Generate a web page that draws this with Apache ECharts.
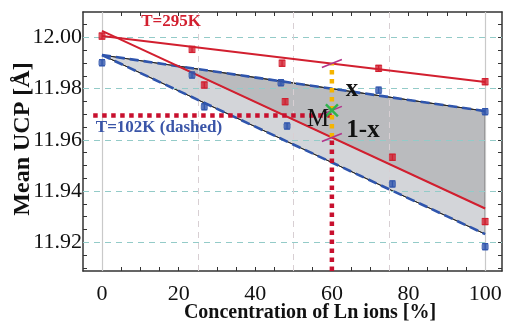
<!DOCTYPE html>
<html><head><meta charset="utf-8">
<script src="https://cdn.jsdelivr.net/npm/echarts@6/dist/echarts.min.js"></script>
<style>html,body{margin:0;padding:0;background:#fff}#c{width:505px;height:324px}</style>
</head><body><div id="c"></div>
<script>
// ---- data ----
const xTickLabels = [0, 20, 40, 60, 80, 100];
const xMinorTicks = [0,5,10,15,20,25,30,35,40,45,50,55,60,65,70,75,80,85,90,95,100];
const yTickLabels = [11.92, 11.94, 11.96, 11.98, 12.00];
const yMinorTicks = [11.91,11.915,11.92,11.925,11.93,11.935,11.94,11.945,11.95,11.955,11.96,11.965,11.97,11.975,11.98,11.985,11.99,11.995,12.00,12.005];
const vGridDashed = [25, 50, 75];
const vGridSolid = [0, 100];

const red1X = [0, 23.5, 47.0, 72.2, 100];
const red1Y = [12.0005, 11.9953, 11.9899, 11.9879, 11.9827];
const red2X = [26.7, 47.8, 75.8, 100];
const red2Y = [11.9814, 11.9749, 11.9532, 11.9281];
const blue1X = [0, 23.5, 46.7, 72.2, 100];
const blue1Y = [11.9901, 11.9853, 11.9823, 11.9794, 11.9710];
const blue2X = [26.7, 48.3, 75.8, 100];
const blue2Y = [11.9729, 11.9654, 11.9428, 11.9183];
const errBar = 0.0012;

const fitX = [0, 100];
const fit295a = [12.0005, 11.9826];
const fit295b = [12.0025, 11.9332];
const fit102a = [11.9931, 11.9712];
const fit102b = [11.9931, 11.9232];

const markX = 60;
const markM = 11.9715;
const hDotY = 11.9695;
const hDotStart = -2.3;

const X_MIN = -4.96, X_MAX = 104.4, Y_MIN = 11.9088, Y_MAX = 12.0099;

// ---- helpers ----
const zip = (xs, ys) => xs.map((x, i) => [x, ys[i]]);
const lineAt = (ys, x) => ys[0] + (ys[1] - ys[0]) * (x - fitX[0]) / (fitX[1] - fitX[0]);
function intersect(a, b) {
  const sa = (a[1]-a[0])/(fitX[1]-fitX[0]), sb = (b[1]-b[0])/(fitX[1]-fitX[0]);
  const x = fitX[0] + (b[0]-a[0])/(sa-sb);
  return [x, lineAt(a, x)];
}
const RED = '#d21f2f', BLUE = '#2f55ad';
const SERIF = '"Liberation Serif", "DejaVu Serif", serif';

const upper295at = lineAt(fit295a, markX);
const lower295at = lineAt(fit295b, markX);

const lightPoly = [[fitX[0], fit102a[0]], [fitX[1], fit102a[1]], [fitX[1], fit102b[1]]];
const darkPoly = [intersect(fit295b, fit102a), [fitX[1], fit102a[1]], [fitX[1], fit295b[1]]];

function polySeries(poly, fill, z) {
  return { type: 'custom', z, silent: true, data: [[0, 0]], clip: true,
    renderItem: (p, api) => ({ type: 'polygon',
      shape: { points: poly.map(pt => api.coord(pt)) },
      style: { fill, stroke: '#333', lineWidth: 0.8 } }) };
}
function errSeries(xs, ys, color) {
  return { type: 'custom', z: 8, silent: true, data: xs.map((x, i) => [x, ys[i], errBar]),
    renderItem: (p, api) => {
      const x = api.value(0), y = api.value(1), e = api.value(2);
      const top = api.coord([x, y + e]), bot = api.coord([x, y - e]);
      return { type: 'group', children: [
        { type: 'line', shape: { x1: top[0], y1: top[1], x2: bot[0], y2: bot[1] }, style: { stroke: color, lineWidth: 1.2 } },
        { type: 'line', shape: { x1: top[0]-3, y1: top[1], x2: top[0]+3, y2: top[1] }, style: { stroke: color, lineWidth: 1.2 } },
        { type: 'line', shape: { x1: bot[0]-3, y1: bot[1], x2: bot[0]+3, y2: bot[1] }, style: { stroke: color, lineWidth: 1.2 } }
      ]};
    } };
}
function lineSeries(data, color, width, type, z) {
  return { type: 'line', data, z, silent: true, symbol: 'none', clip: true,
    lineStyle: { color, width, type, cap: 'butt' } };
}

const chart = echarts.init(document.getElementById('c'), null, { renderer: 'canvas' });
const axisCommon = {
  type: 'value', min: X_MIN, max: X_MAX,
  axisLine: { show: true, onZero: false, lineStyle: { color: '#333', width: 1.5 } },
  splitLine: { show: false }
};
chart.setOption({
  animation: false,
  grid: { left: 83, right: 3, top: 12, bottom: 53, containLabel: false },
  xAxis: [
    Object.assign({}, axisCommon, { position: 'bottom',
      axisTick: { show: true, inside: true, length: 4, customValues: xMinorTicks, lineStyle: { color: '#333' } },
      axisLabel: { customValues: xTickLabels, color: '#111', fontFamily: SERIF, fontSize: 22, margin: 12 } }),
    Object.assign({}, axisCommon, { position: 'top',
      axisTick: { show: true, inside: true, length: 4, customValues: xMinorTicks, lineStyle: { color: '#333' } },
      axisLabel: { show: false } })
  ],
  yAxis: [
    { type: 'value', min: Y_MIN, max: Y_MAX, position: 'left',
      axisLine: { show: true, onZero: false, lineStyle: { color: '#333', width: 1.5 } },
      axisTick: { show: true, inside: true, length: 4, customValues: yMinorTicks, lineStyle: { color: '#333' } },
      axisLabel: { customValues: yTickLabels, formatter: v => v.toFixed(2), color: '#111', fontFamily: SERIF, fontSize: 22, margin: 1 },
      splitLine: { show: false } },
    { type: 'value', min: Y_MIN, max: Y_MAX, position: 'right',
      axisLine: { show: true, onZero: false, lineStyle: { color: '#333', width: 1.5 } },
      axisTick: { show: true, inside: true, length: 4, customValues: yMinorTicks, lineStyle: { color: '#333' } },
      axisLabel: { show: false }, splitLine: { show: false } }
  ],
  series: [
    { type: 'line', data: [], z: 1, silent: true,
      markLine: { silent: true, symbol: 'none', label: { show: false },
        data: yTickLabels.map(v => ({ yAxis: v, lineStyle: { color: '#93cbc8', width: 1, type: [6, 5] } }))
          .concat(vGridDashed.map(v => ({ xAxis: v, lineStyle: { color: '#d8cfd3', width: 1, type: [6, 5] } })))
          .concat(vGridSolid.map(v => ({ xAxis: v, lineStyle: { color: '#c9c9c9', width: 1.2, type: 'solid' } }))) } },
    polySeries(lightPoly, '#d3d5d9', 2),
    polySeries(darkPoly, '#babbbe', 3),
    lineSeries(zip(fitX, fit102a), '#222', 1, 'solid', 4),
    lineSeries(zip(fitX, fit102b), '#222', 1, 'solid', 4),
    lineSeries(zip(fitX, fit102a), BLUE, 2.6, [9, 5], 5),
    lineSeries(zip(fitX, fit102b), BLUE, 2.6, [9, 5], 5),
    lineSeries(zip(fitX, fit295a), RED, 2, 'solid', 5),
    lineSeries(zip(fitX, fit295b), RED, 2, 'solid', 5),
    lineSeries([[hDotStart, hDotY], [markX, hDotY]], '#c8102e', 4.5, [4.5, 4.5], 6),
    lineSeries([[markX, Y_MIN], [markX, lower295at]], '#c8102e', 4.5, [4.5, 4.5], 6),
    lineSeries([[markX, lower295at], [markX, upper295at]], '#f5b400', 4.5, [4.5, 4.5], 7),
    { type: 'custom', z: 9, silent: true, data: [[markX, upper295at], [markX, markM], [markX, lower295at]],
      renderItem: (p, api) => { const c = api.coord([api.value(0), api.value(1)]);
        return { type: 'line', shape: { x1: c[0]-10, y1: c[1]+4, x2: c[0]+10, y2: c[1]-4 }, style: { stroke: '#b3338a', lineWidth: 1.6 } }; } },
    { type: 'custom', z: 10, silent: true, data: [[markX, markM]],
      renderItem: (p, api) => { const c = api.coord([api.value(0), api.value(1)]);
        return { type: 'group', children: [
          { type: 'line', shape: { x1: c[0]-6, y1: c[1]-6, x2: c[0]+6, y2: c[1]+6 }, style: { stroke: '#2fb34c', lineWidth: 2.4 } },
          { type: 'line', shape: { x1: c[0]-6, y1: c[1]+6, x2: c[0]+6, y2: c[1]-6 }, style: { stroke: '#2fb34c', lineWidth: 2.4 } } ] }; } },
    errSeries(red1X, red1Y, RED), errSeries(red2X, red2Y, RED),
    errSeries(blue1X, blue1Y, BLUE), errSeries(blue2X, blue2Y, BLUE),
    { type: 'scatter', z: 11, silent: true, data: zip(red1X, red1Y), symbol: 'rect', symbolSize: 7, itemStyle: { color: RED } },
    { type: 'scatter', z: 11, silent: true, data: zip(red2X, red2Y), symbol: 'rect', symbolSize: 7, itemStyle: { color: RED } },
    { type: 'scatter', z: 11, silent: true, data: zip(blue1X, blue1Y), symbol: 'roundRect', symbolSize: 7, itemStyle: { color: BLUE } },
    { type: 'scatter', z: 11, silent: true, data: zip(blue2X, blue2Y), symbol: 'roundRect', symbolSize: 7, itemStyle: { color: BLUE } }
  ],
  graphic: [
    { type: 'text', left: 'center', x: 0, style: {} , invisible: true },
    { type: 'text', x: 171, y: 22, z: 20, style: { text: 'T=295K', font: 'bold 17px ' + SERIF, fill: RED, align: 'center', verticalAlign: 'middle' } },
    { type: 'text', x: 159, y: 128, z: 20, style: { text: 'T=102K (dashed)', font: 'bold 17px ' + SERIF, fill: '#3a55a8', align: 'center', verticalAlign: 'middle' } },
    { type: 'text', x: 352, y: 90, z: 20, style: { text: 'x', font: 'bold 25px ' + SERIF, fill: '#111', align: 'center', verticalAlign: 'middle' } },
    { type: 'text', x: 318, y: 119, z: 20, style: { text: 'M', font: '25px ' + SERIF, fill: '#111', align: 'center', verticalAlign: 'middle' } },
    { type: 'text', x: 363, y: 131, z: 20, style: { text: '1-x', font: 'bold 25px ' + SERIF, fill: '#111', align: 'center', verticalAlign: 'middle' } },
    { type: 'text', x: 310, y: 313, z: 20, style: { text: 'Concentration of Ln ions [%]', font: 'bold 20px ' + SERIF, fill: '#111', align: 'center', verticalAlign: 'middle' } },
    { type: 'text', x: 23, y: 139, rotation: Math.PI / 2, z: 20, style: { text: 'Mean UCP [Å]', font: 'bold 24px ' + SERIF, fill: '#111', align: 'center', verticalAlign: 'middle' } }
  ]
});
</script></body></html>
